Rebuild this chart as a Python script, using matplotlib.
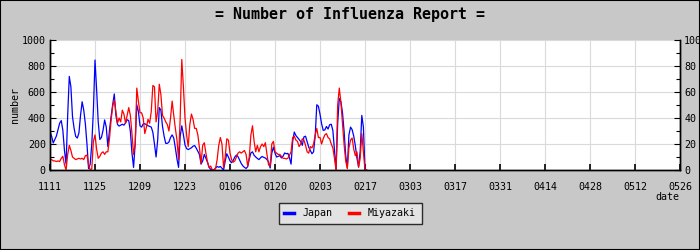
import matplotlib
matplotlib.use("Agg")
import matplotlib.pyplot as plt
import numpy as np
from matplotlib.lines import Line2D
from matplotlib.patches import Rectangle

# reports every half day, starting 11/11
step_days = 0.5

japan = [
    295, 260, 208, 235, 262, 310, 360, 380, 305, 150,
    45, 420, 720, 640, 410, 320, 258, 246, 285, 420,
    525, 460, 355, 200, 10, 45, 200, 460, 846, 620,
    370, 235, 250, 305, 385, 330, 180, 305, 410, 502,
    585, 420, 350, 338, 345, 352, 345, 362, 387, 380,
    297, 130, 20, 200, 502, 450, 340, 330, 355, 356,
    348, 340, 336, 330, 290, 200, 100, 230, 480, 460,
    335, 260, 205, 205, 215, 250, 270, 246, 170, 85,
    20, 260, 340, 272, 192, 165, 157, 164, 171, 183,
    188, 168, 144, 118, 45, 70, 120, 90, 60, 20,
    5, 0, 0, 15, 27, 21, 27, 14, 0, 67,
    125, 100, 70, 56, 75, 100, 115, 102, 75, 50,
    32, 20, 12, 25, 85, 131, 140, 113, 100, 89,
    80, 94, 104, 97, 92, 80, 62, 15, 130, 175,
    130, 100, 105, 110, 93, 106, 131, 125, 128, 95,
    45, 220, 292, 265, 250, 235, 218, 190, 255, 260,
    218, 175, 150, 125, 140, 260, 502, 490, 430, 355,
    305, 308, 335, 315, 348, 352, 305, 150, 0, 360,
    550, 525, 440, 297, 110, 20, 270, 330, 310, 260,
    185, 90, 25, 144, 420, 330, 0, 0,
]

miyazaki = [
    8, 8, 7, 7, 6.5, 7, 6.5, 9, 10.5, 4,
    0, 12, 19, 15, 10, 9, 8, 8.5, 9, 8.5,
    9, 8, 11, 11.5, 4, 0, 1, 22, 27, 16,
    9, 10.5, 13, 14, 12, 14, 14, 24, 38, 49,
    54, 45, 36, 40, 37, 46, 43, 36, 42, 48,
    42, 28, 12, 20, 63, 53, 44, 44, 40, 28,
    33, 39, 36, 45, 65, 64, 37, 45, 66, 58,
    42, 40, 37, 35, 30, 40, 53, 42, 32, 23,
    8, 40, 85, 64, 40, 27, 18, 35, 43, 39,
    32, 32, 27, 17, 5, 19, 21, 13, 6, 2,
    3, 0, 0, 1, 8, 19, 25, 20, 2, 10,
    24, 23, 13, 8, 6, 7, 10, 13, 14, 13,
    14, 15, 12, 3, 10, 27, 34, 22, 14, 19,
    14, 18, 20, 18, 21, 12, 4, 3, 20, 22,
    14, 13, 12, 12, 10.5, 9, 9, 8.5, 9, 11.5,
    14, 25, 26, 23, 22, 18, 20, 24, 23, 19,
    14, 13, 18, 17, 20, 27, 32, 25, 25, 20,
    24, 27, 28, 25, 24, 20, 17, 9, 0, 50,
    63, 52, 36, 19.5, 7, 1, 17, 23, 24.6, 16,
    11, 14, 2, 9, 28, 14, 0, 0,
]

tick_labels = ["1111", "1125", "1209", "1223", "0106", "0120", "0203", "0217",
               "0303", "0317", "0331", "0414", "0428", "0512", "0526"]
tick_every = 14

days = np.arange(len(japan)) * step_days
tick_days = np.arange(len(tick_labels)) * tick_every

mono = "DejaVu Sans Mono"
fs = 7.2
bg = "#c8c8c8"

fig = plt.figure(figsize=(7, 2.5), dpi=100, facecolor=bg)
ax = fig.add_axes([50 / 700, 80 / 250, 630 / 700, 130 / 250])
ax2 = ax.twinx()

ax.plot(days, japan, color="#0000ff", lw=0.9, zorder=3)
ax2.plot(days, miyazaki, color="#ff0000", lw=0.9, zorder=2)

ax.set_xlim(0, tick_days[-1])
ax.set_ylim(0, 1000)
ax2.set_ylim(0, 100)

ax.set_xticks(tick_days)
ax.set_xticklabels(tick_labels, fontfamily=mono, fontsize=fs)
ax.set_yticks(np.arange(0, 1001, 200))
ax.set_yticks(np.arange(0, 1001, 100), minor=True)
ax.set_yticklabels([str(v) for v in range(0, 1001, 200)], fontfamily=mono, fontsize=fs)
ax2.set_yticks(np.arange(0, 101, 20))
ax2.set_yticks(np.arange(0, 101, 10), minor=True)
ax2.set_yticklabels([str(v) for v in range(0, 101, 20)], fontfamily=mono, fontsize=fs)

ax.grid(True, which="major", color="#dadada", lw=0.8)
ax.set_axisbelow(True)

ax.tick_params(axis="x", direction="in", length=4, width=1.2, pad=9, colors="black")
ax.tick_params(axis="y", which="major", direction="in", length=4, width=0.8, pad=3)
ax.tick_params(axis="y", which="minor", direction="in", length=3, width=0.8)
ax2.tick_params(axis="y", which="major", direction="in", length=4, width=0.8, pad=3)
ax2.tick_params(axis="y", which="minor", direction="in", length=3, width=0.8)

for a in (ax, ax2):
    a.spines["top"].set_visible(False)
    for s in ("left", "right", "bottom"):
        a.spines[s].set_color("black")
        a.spines[s].set_linewidth(1.0)

ax.set_ylabel("number", fontfamily=mono, fontsize=fs, labelpad=1)
fig.text(667 / 700, 1 - 197 / 250, "date", ha="center", va="center",
         fontfamily=mono, fontsize=fs)

fig.text(0.5, 1 - 14 / 250, "= Number of Influenza Report =", ha="center", va="center",
         fontfamily=mono, fontsize=10.8, fontweight="bold")

handles = [Line2D([], [], color="#0000ff", lw=2.5),
           Line2D([], [], color="#ff0000", lw=2.5)]
leg = fig.legend(handles, ["Japan", "Miyazaki"], loc="center", ncol=2,
                 bbox_to_anchor=(350 / 700, 1 - 213 / 250),
                 prop={"family": mono, "size": fs}, frameon=True, fancybox=False,
                 shadow=False, handlelength=1.0, handletextpad=0.9, columnspacing=1.6,
                 borderpad=0.55)
leg.get_frame().set_facecolor("#ebebeb")
leg.get_frame().set_edgecolor("black")
leg.get_frame().set_linewidth(1.0)

fig.patches.append(Rectangle((0, 0), 1, 1, transform=fig.transFigure, fill=False,
                             edgecolor="black", lw=1.5))

fig.savefig("out.png", dpi=100, facecolor=bg)
